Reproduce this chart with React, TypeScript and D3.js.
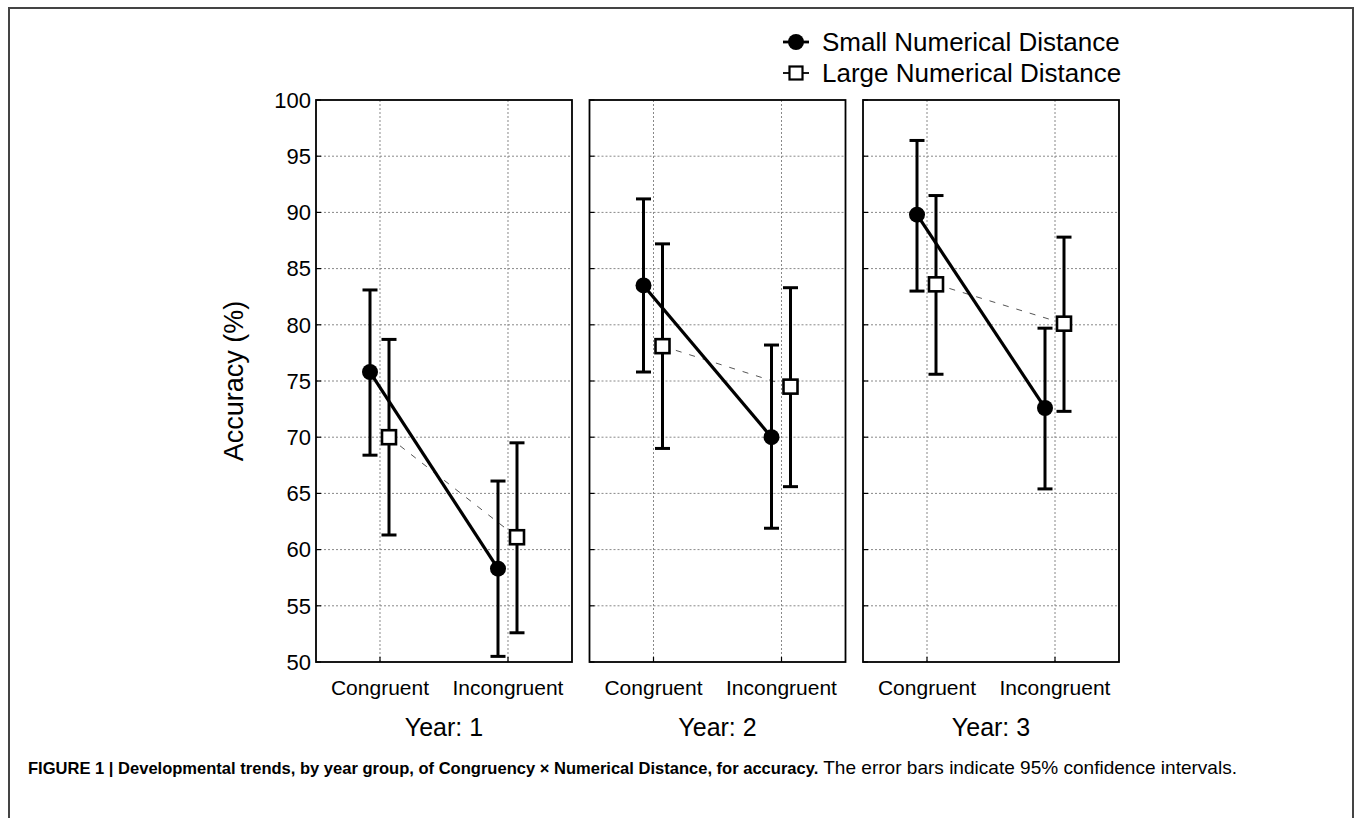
import * as d3 from 'd3'

const years = ['1', '2', '3']
const conditions = ['Congruent', 'Incongruent']
const yTicks = [50, 55, 60, 65, 70, 75, 80, 85, 90, 95, 100]

// per year: [congruent, incongruent]
const smallMean = [[75.8, 58.3], [83.5, 70.0], [89.8, 72.6]]
const smallLow = [[68.4, 50.5], [75.8, 61.9], [83.0, 65.4]]
const smallHigh = [[83.1, 66.1], [91.2, 78.2], [96.4, 79.7]]

const largeMean = [[70.0, 61.1], [78.1, 74.5], [83.6, 80.1]]
const largeLow = [[61.3, 52.6], [69.0, 65.6], [75.6, 72.3]]
const largeHigh = [[78.7, 69.5], [87.2, 83.3], [91.5, 87.8]]

const FONT = 'Liberation Sans, Arial, Helvetica, sans-serif'
const CAPTION_FONT = 'Liberation Sans Narrow, Liberation Sans, Arial, sans-serif'

export default function App() {
  const W = 1357
  const H = 818
  const top = 100
  const bottom = 662

  const yScale = d3.scaleLinear().domain([50, 100]).range([bottom, top])
  const panel = d3.scaleBand().domain(years).range([316, 1119]).paddingInner(0.064)
  const pw = panel.bandwidth()

  const off = { small: -10, large: 9 }

  const errBar = (x: number, lo: number, hi: number, key: string) => (
    <g key={key} stroke="#000" strokeWidth={3}>
      <line x1={x} x2={x} y1={yScale(lo)} y2={yScale(hi)} />
      <line x1={x - 7.5} x2={x + 7.5} y1={yScale(lo)} y2={yScale(lo)} />
      <line x1={x - 7.5} x2={x + 7.5} y1={yScale(hi)} y2={yScale(hi)} />
    </g>
  )

  return (
    <svg width={W} height={H} style={{ position: 'absolute', left: 0, top: 0, background: '#fff' }}>
      <rect x={0} y={0} width={W} height={H} fill="#fff" />
      <rect x={9} y={8} width={1344} height={830} fill="none" stroke="#444" strokeWidth={2} />

      {/* legend */}
      <g>
        <line x1={783} x2={809} y1={42} y2={42} stroke="#000" strokeWidth={2.8} />
        <circle cx={796} cy={42} r={8} fill="#000" />
        <text x={822} y={42} dy="0.35em" fontFamily={FONT} fontSize={26}>Small Numerical Distance</text>
        <line x1={783} x2={809} y1={73} y2={73} stroke="#000" strokeWidth={1.8} />
        <rect x={789.5} y={66.5} width={13} height={13} fill="#fff" stroke="#000" strokeWidth={2.2} />
        <text x={822} y={73} dy="0.35em" fontFamily={FONT} fontSize={26}>Large Numerical Distance</text>
      </g>

      {/* y axis labels */}
      {yTicks.map((t) => (
        <text key={t} x={311} y={yScale(t)} dy="0.35em" textAnchor="end" fontFamily={FONT} fontSize={22}>
          {t}
        </text>
      ))}
      <text
        transform={`translate(234,${(top + bottom) / 2}) rotate(-90)`}
        textAnchor="middle"
        dy="0.35em"
        fontFamily={FONT}
        fontSize={27}
      >
        Accuracy (%)
      </text>

      {years.map((yr, i) => {
        const left = panel(yr) as number
        const x = d3.scalePoint().domain(conditions).range([left, left + pw]).padding(0.5)
        const xs = conditions.map((c) => x(c) as number)
        const sm = smallMean[i]
        const lg = largeMean[i]
        return (
          <g key={yr}>
            {/* grid */}
            {yTicks.slice(1, -1).map((t) => (
              <line key={t} x1={left} x2={left + pw} y1={yScale(t)} y2={yScale(t)} stroke="#888" strokeWidth={1} strokeDasharray="2,2" />
            ))}
            {xs.map((xv, j) => (
              <line key={j} x1={xv} x2={xv} y1={top} y2={bottom} stroke="#888" strokeWidth={1} strokeDasharray="2,2" />
            ))}
            {/* ticks */}
            {yTicks.map((t) => (
              <line key={'t' + t} x1={left} x2={left + 5} y1={yScale(t)} y2={yScale(t)} stroke="#000" strokeWidth={1.2} />
            ))}
            {xs.map((xv, j) => (
              <line key={'b' + j} x1={xv} x2={xv} y1={bottom} y2={bottom - 5} stroke="#000" strokeWidth={1.2} />
            ))}
            <rect x={left} y={top} width={pw} height={bottom - top} fill="none" stroke="#000" strokeWidth={1.8} />

            {/* large: dashed line */}
            <line
              x1={xs[0] + off.large}
              y1={yScale(lg[0])}
              x2={xs[1] + off.large}
              y2={yScale(lg[1])}
              stroke="#555"
              strokeWidth={1}
              strokeDasharray="6,8"
            />
            {/* small: solid line */}
            <line
              x1={xs[0] + off.small}
              y1={yScale(sm[0])}
              x2={xs[1] + off.small}
              y2={yScale(sm[1])}
              stroke="#000"
              strokeWidth={3.2}
            />
            {xs.map((xv, j) => errBar(xv + off.small, smallLow[i][j], smallHigh[i][j], 's' + j))}
            {xs.map((xv, j) => errBar(xv + off.large, largeLow[i][j], largeHigh[i][j], 'l' + j))}
            {xs.map((xv, j) => (
              <circle key={'c' + j} cx={xv + off.small} cy={yScale(sm[j])} r={8} fill="#000" />
            ))}
            {xs.map((xv, j) => (
              <rect
                key={'r' + j}
                x={xv + off.large - 7}
                y={yScale(lg[j]) - 7}
                width={14}
                height={14}
                fill="#fff"
                stroke="#000"
                strokeWidth={2.6}
              />
            ))}

            {/* x labels */}
            {conditions.map((c, j) => (
              <text key={c} x={xs[j]} y={688} dy="0.35em" textAnchor="middle" fontFamily={FONT} fontSize={21}>
                {c}
              </text>
            ))}
            <text x={left + pw / 2} y={727} dy="0.35em" textAnchor="middle" fontFamily={FONT} fontSize={25}>
              Year: {yr}
            </text>
          </g>
        )
      })}

      {/* caption */}
      <text x={28} y={774} fontFamily={CAPTION_FONT} textLength={1209} lengthAdjust="spacingAndGlyphs">
        <tspan fontWeight="bold" fontSize={16.5}>
          FIGURE 1 | Developmental trends, by year group, of Congruency × Numerical Distance, for accuracy.
        </tspan>
        <tspan fontSize={19}> The error bars indicate 95% confidence intervals.</tspan>
      </text>
    </svg>
  )
}
